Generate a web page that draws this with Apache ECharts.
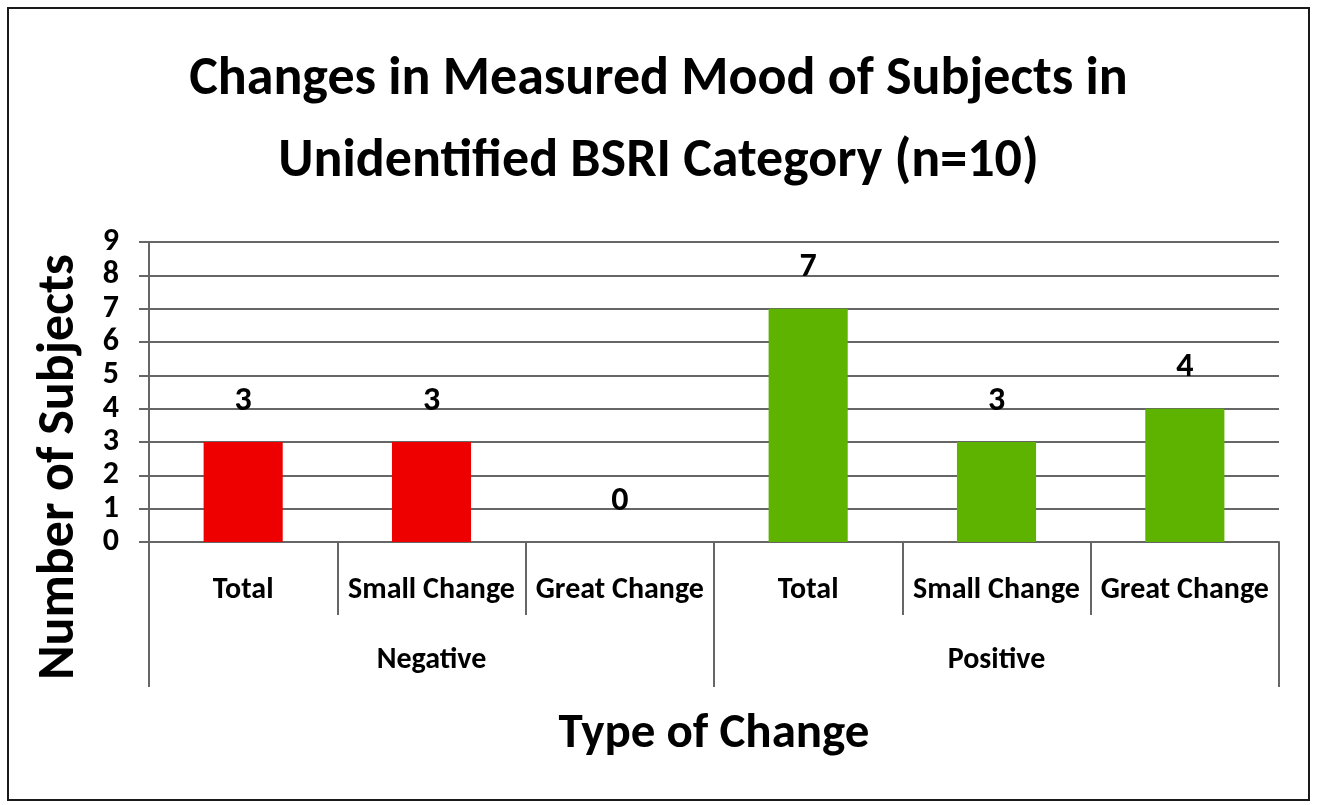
<!DOCTYPE html>
<html>
<head>
<meta charset="utf-8">
<script src="https://cdn.jsdelivr.net/npm/echarts@6/dist/echarts.min.js"></script>
<style>
html,body{margin:0;padding:0;background:#fff;}
#chart{width:1317px;height:805px;}
</style>
</head>
<body>
<div id="chart"></div>
<script>
const categories = ['Total', 'Small Change', 'Great Change', 'Total', 'Small Change', 'Great Change'];
const groupOfCategory = ['Negative', 'Negative', 'Negative', 'Positive', 'Positive', 'Positive'];
const groups = ['Negative', 'Positive'];
const values = [3, 3, 0, 7, 3, 4];
const yTicks = [0, 1, 2, 3, 4, 5, 6, 7, 8, 9];
const titleText = 'Changes in Measured Mood of Subjects in\nUnidentified BSRI Category (n=10)';
const xName = 'Type of Change';
const yName = 'Number of Subjects';

const groupColors = { Negative: '#ee0000', Positive: '#5db300' };
const FONT = 'Carlito, "DejaVu Sans Condensed", "Liberation Sans Narrow", sans-serif';
const AX = '#666666';

const chart = echarts.init(document.getElementById('chart'), null, { renderer: 'canvas' });
chart.setOption({
  animation: false,
  backgroundColor: '#fff',
  graphic: [{
    type: 'rect', shape: { x: 8, y: 8, width: 1301, height: 792 },
    style: { fill: 'none', stroke: '#1a1a1a', lineWidth: 2 }, silent: true, z: 100
  }, {
    type: 'text', x: 60, y: 467, rotation: Math.PI / 2, silent: true,
    style: { text: yName, textAlign: 'center', textVerticalAlign: 'middle',
      fontFamily: FONT, fontWeight: 'bold', fontSize: 52, fill: '#000' }
  }],
  title: {
    text: titleText, left: 'center', top: 34,
    textStyle: { fontFamily: FONT, fontWeight: 'bold', fontSize: 54, lineHeight: 82, color: '#000' }
  },
  grid: { left: 149, right: 38, top: 242, bottom: 263, containLabel: false },
  xAxis: [{
    type: 'category', data: categories, position: 'bottom',
    axisLine: { show: true, lineStyle: { color: AX, width: 2 } },
    axisTick: { show: true, interval: 0, length: 73, lineStyle: { color: AX, width: 2 } },
    axisLabel: { interval: 0, margin: 33, fontFamily: FONT, fontWeight: 'bold', fontSize: 30, color: '#000' },
    splitLine: { show: false }
  }, {
    type: 'category', data: groups, position: 'bottom',
    axisLine: { show: false },
    axisTick: { show: true, interval: 0, length: 145, lineStyle: { color: AX, width: 2 } },
    axisLabel: { interval: 0, margin: 103, fontFamily: FONT, fontWeight: 'bold', fontSize: 30, color: '#000' },
    name: xName, nameLocation: 'middle', nameGap: 168,
    nameTextStyle: { fontFamily: FONT, fontWeight: 'bold', fontSize: 49, color: '#000' }
  }],
  yAxis: {
    type: 'value', min: 0, max: yTicks[yTicks.length - 1], interval: 1,
    axisLine: { show: true, lineStyle: { color: AX, width: 2 } },
    axisTick: { show: true, length: 10, lineStyle: { color: AX, width: 2 } },
    axisLabel: { margin: 30, fontFamily: FONT, fontWeight: 'bold', fontSize: 32, lineHeight: 30,
      showMinLabel: true, showMaxLabel: true, color: '#000' },
    splitLine: { show: true, lineStyle: { color: AX, width: 2 } }
  },
  series: [{
    type: 'bar', xAxisIndex: 0, barWidth: '42%',
    data: values.map((v, i) => ({ value: v, itemStyle: { color: groupColors[groupOfCategory[i]] } })),
    label: { show: true, position: 'top', distance: 24, fontFamily: FONT, fontWeight: 'bold', fontSize: 34, color: '#000' }
  }]
});
</script>
</body>
</html>
